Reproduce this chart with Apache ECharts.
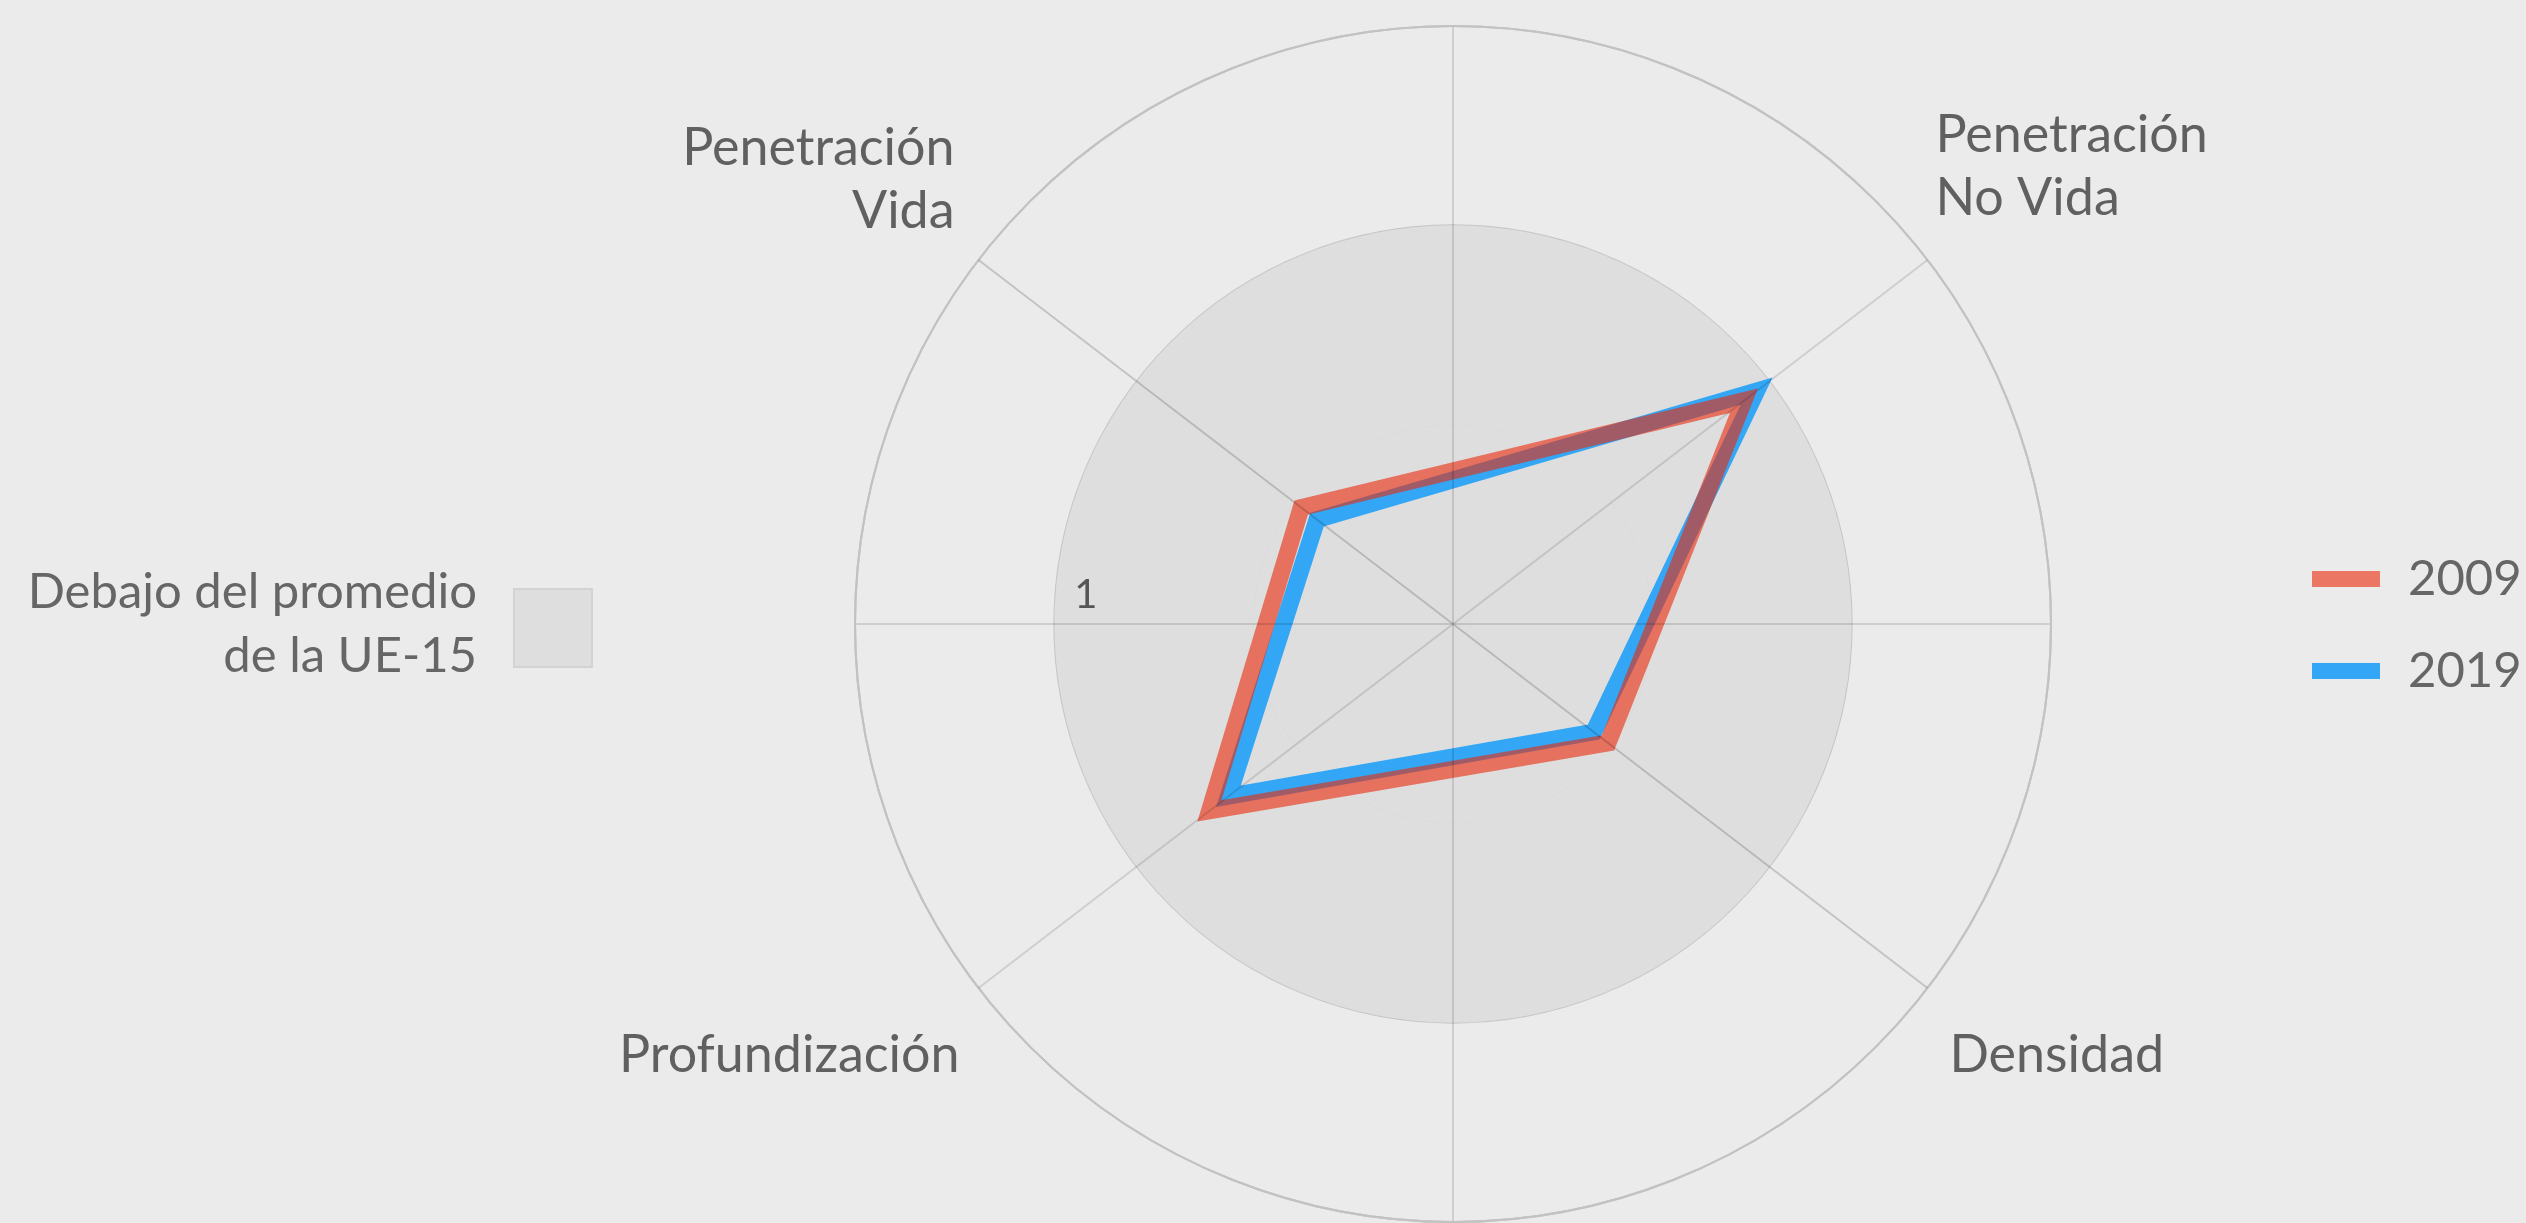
<!DOCTYPE html>
<html>
<head>
<meta charset="utf-8">
<script src="https://cdn.jsdelivr.net/npm/echarts@6/dist/echarts.min.js"></script>
<style>
  html, body { margin: 0; padding: 0; background: #ebebeb; }
  #chart { width: 2526px; height: 1223px; }
</style>
</head>
<body>
<div id="chart"></div>
<script>
// indicators, clockwise from upper right
const indicators = ['Penetración\nNo Vida', 'Densidad', 'Profundización', 'Penetración\nVida']
// angle-axis value of each spoke (degrees, clockwise from the left)
const indicatorAngles = [142.5, 217.5, 322.5, 37.5]
const years = ['2009', '2019']
const values2009 = [0.92, 0.49, 0.77, 0.48]
const values2019 = [0.96, 0.445, 0.71, 0.43]
const radiusMax = 1.5

const font = 'Lato'

// where each indicator name sits relative to the end of its spoke
const nameLayout = [
  { align: 'left', verticalAlign: 'bottom', offset: [8, -30] },
  { align: 'left', verticalAlign: 'middle', offset: [22, 67] },
  { align: 'right', verticalAlign: 'middle', offset: [-19, 67] },
  { align: 'right', verticalAlign: 'bottom', offset: [-24, -17] }
]

// closed outline; one extra point so the first corner gets a proper join too
function toPolygon (values) {
  const pts = values.map((v, i) => [v, indicatorAngles[i]])
  pts.push(pts[0], pts[1])
  return pts
}

function spoke (a1, a2, color) {
  return {
    type: 'line',
    coordinateSystem: 'polar',
    data: [[radiusMax, a1], [0, 0], [radiusMax, a2]],
    showSymbol: false,
    silent: true,
    z: 4,
    lineStyle: { color: color, width: 2 }
  }
}

const chart = echarts.init(document.getElementById('chart'))

chart.setOption({
  backgroundColor: '#ebebeb',
  animation: false,
  polar: {
    center: [1453, 624],
    radius: 598
  },
  angleAxis: {
    type: 'value',
    min: 0,
    max: 360,
    interval: 90,
    startAngle: 180,
    clockwise: true,
    z: 4,
    axisLine: { show: true, lineStyle: { color: '#c2c2c2', width: 2 } },
    axisTick: { show: false },
    axisLabel: { show: false },
    splitLine: { show: true, lineStyle: { color: 'rgba(0,0,0,0.12)', width: 2 } }
  },
  radiusAxis: {
    type: 'value',
    min: 0,
    max: radiusMax,
    interval: 0.5,
    axisLine: { show: false },
    axisTick: { show: false },
    axisLabel: {
      formatter: v => (v === 1 ? '1' : ''),
      fontFamily: font,
      fontSize: 40,
      color: '#555',
      margin: -9,
      align: 'left',
      verticalAlign: 'bottom',
      padding: [0, 0, 0, 20]
    },
    splitLine: {
      show: true,
      lineStyle: { color: ['rgba(0,0,0,0)', '#cfcfcf', '#c6c6c6', '#c2c2c2'], width: 2 }
    },
    splitArea: {
      show: true,
      areaStyle: { color: ['#dedede', '#dedede', 'rgba(0,0,0,0)'] }
    }
  },
  legend: {
    data: years,
    orient: 'vertical',
    left: 2307,
    top: 544,
    icon: 'rect',
    itemWidth: 68,
    itemHeight: 16,
    itemGap: 32,
    selectedMode: false,
    textStyle: {
      fontFamily: font,
      fontSize: 49,
      color: '#666',
      lineHeight: 60,
      padding: [0, 0, 0, 23]
    }
  },
  graphic: [
    {
      type: 'text',
      x: 477,
      y: 624,
      style: {
        text: 'Debajo del promedio\nde la UE-15',
        align: 'right',
        verticalAlign: 'middle',
        fontFamily: font,
        fontSize: 49,
        lineHeight: 64,
        fill: '#666'
      }
    },
    {
      type: 'rect',
      shape: { x: 514, y: 589, width: 78, height: 78 },
      style: { fill: '#dedede', stroke: '#d3d3d3', lineWidth: 2 }
    }
  ],
  series: [
    {
      name: '2019',
      type: 'line',
      coordinateSystem: 'polar',
      data: toPolygon(values2019),
      showSymbol: false,
      color: '#33a7f6',
      lineStyle: { width: 17, join: 'miter', miterLimit: 10 }
    },
    {
      name: '2009',
      type: 'line',
      coordinateSystem: 'polar',
      data: toPolygon(values2009),
      showSymbol: false,
      color: 'rgba(233,40,8,0.6)',
      lineStyle: { width: 17, join: 'miter', miterLimit: 10 }
    },
    spoke(indicatorAngles[3], indicatorAngles[1], 'rgba(0,0,0,0.17)'),
    spoke(indicatorAngles[0], indicatorAngles[2], 'rgba(0,0,0,0.12)'),
    {
      type: 'scatter',
      coordinateSystem: 'polar',
      symbolSize: 0,
      silent: true,
      data: indicators.map((name, i) => ({
        name: name,
        value: [radiusMax, indicatorAngles[i]],
        label: nameLayout[i]
      })),
      label: {
        show: true,
        position: 'inside',
        formatter: p => p.name,
        fontFamily: font,
        fontSize: 52,
        lineHeight: 63,
        color: '#3d3d3d'
      }
    }
  ]
})
</script>
</body>
</html>
